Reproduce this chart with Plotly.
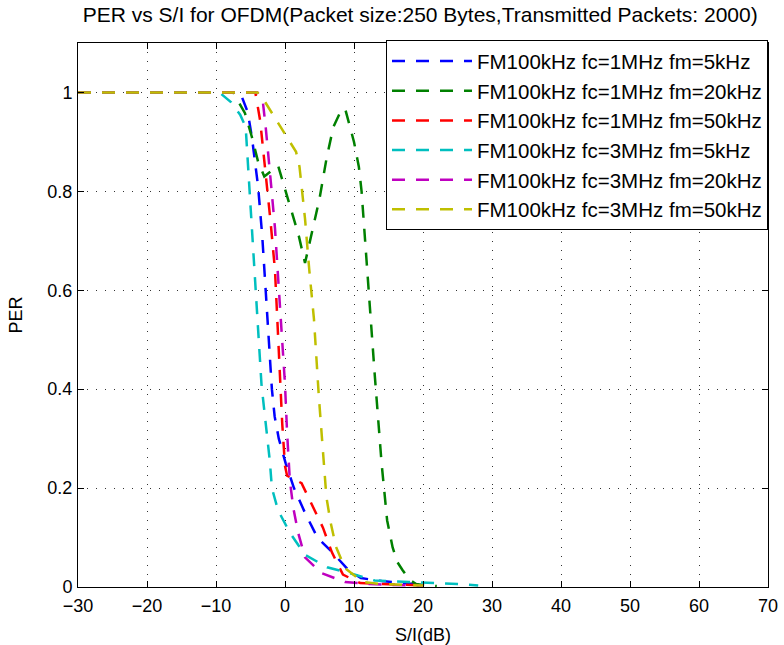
import plotly.graph_objects as go

# PER vs S/I curves
blue_x = [-30, -6.5, -5.4, -4.8, -3.9, -3.3, -2.8, -2.3, -1.9, -1.5, -0.9, 0.1, 1.3, 2.9, 4.7, 7.0, 9.2, 11, 14, 17, 20]
blue_y = [1, 1, 0.96, 0.91, 0.81, 0.71, 0.60, 0.50, 0.40, 0.345, 0.30, 0.25, 0.20, 0.15, 0.10, 0.068, 0.034, 0.018, 0.012, 0.008, 0.004]

green_x = [-30, -7.5, -5.8, -4.8, -3.9, -3.0, -1.0, 0, 1, 2, 2.9, 4, 5, 6, 7, 8, 8.7, 10, 10.7, 11.1, 12, 13, 14, 14.8, 15.6, 16.3, 17, 18, 19, 20, 22]
green_y = [1, 1, 0.958, 0.91, 0.86, 0.83, 0.852, 0.805, 0.762, 0.71, 0.655, 0.725, 0.785, 0.865, 0.93, 0.96, 0.968, 0.90, 0.85, 0.80, 0.62, 0.43, 0.25, 0.135, 0.08, 0.05, 0.035, 0.015, 0.006, 0.004, 0.002]

red_x = [-30, -4.3, -3.6, -2.8, -2.1, -1.45, -1.0, -0.4, 0, 0.3, 2.4, 3.9, 5.5, 6.8, 8.4, 10.9, 14, 17, 20]
red_y = [1, 1, 0.943, 0.842, 0.74, 0.64, 0.50, 0.33, 0.245, 0.225, 0.21, 0.165, 0.12, 0.07, 0.025, 0.008, 0.006, 0.004, 0.003]

cyan_x = [-30, -9.5, -7.8, -6.5, -5.7, -3.4, -2.2, -1.9, -1.0, 0.7, 2.9, 6.1, 9.4, 13, 18, 22, 25, 28]
cyan_y = [1, 1, 0.98, 0.955, 0.93, 0.408, 0.255, 0.20, 0.155, 0.11, 0.065, 0.04, 0.028, 0.013, 0.01, 0.008, 0.006, 0.003]

magenta_x = [-30, -4.0, -3.2, -2.8, -2.1, -1.45, -1.0, -0.5, 0, 0.3, 0.7, 1.2, 1.9, 2.9, 5.3, 8.7, 12.3, 16, 20]
magenta_y = [1, 1, 0.98, 0.93, 0.826, 0.725, 0.626, 0.52, 0.41, 0.313, 0.216, 0.16, 0.11, 0.06, 0.028, 0.01, 0.006, 0.004, 0.003]

yellow_x = [-30, -4.0, -3.3, 1.6, 2.1, 2.9, 3.5, 4.2, 4.9, 5.6, 6.0, 6.6, 7.4, 8.7, 11.3, 14, 17, 20]
yellow_y = [1, 1, 0.99, 0.88, 0.85, 0.745, 0.644, 0.541, 0.386, 0.26, 0.182, 0.131, 0.081, 0.038, 0.01, 0.006, 0.004, 0.003]

series = [
    ("FM100kHz fc=1MHz fm=5kHz", blue_x, blue_y, "rgb(0,0,255)"),
    ("FM100kHz fc=1MHz fm=20kHz", green_x, green_y, "rgb(0,128,0)"),
    ("FM100kHz fc=1MHz fm=50kHz", red_x, red_y, "rgb(255,0,0)"),
    ("FM100kHz fc=3MHz fm=5kHz", cyan_x, cyan_y, "rgb(0,191,191)"),
    ("FM100kHz fc=3MHz fm=20kHz", magenta_x, magenta_y, "rgb(191,0,191)"),
    ("FM100kHz fc=3MHz fm=50kHz", yellow_x, yellow_y, "rgb(191,191,0)"),
]

FONT = "Liberation Sans, Arial, sans-serif"

fig = go.Figure()
for name, xs, ys, color in series:
    fig.add_trace(go.Scatter(
        x=xs, y=ys, mode="lines", name=name,
        line=dict(color=color, width=2.5, dash="13px,11px"),
    ))

axis_common = dict(
    showline=True, linecolor="black", linewidth=1, mirror="ticks",
    ticks="inside", ticklen=6, tickcolor="black", automargin=False,
    showgrid=True, gridcolor="#333", griddash="1px,8px", gridwidth=1,
    zeroline=False, tickfont=dict(size=18, color="black", family=FONT),
)

fig.update_xaxes(range=[-30, 70], dtick=10, tick0=0, ticklabelstandoff=2, **axis_common,
                 title=dict(text="S/I(dB)", font=dict(size=18, color="black"), standoff=16))
fig.update_yaxes(range=[0, 1.1], tickvals=[0, 0.2, 0.4, 0.6, 0.8, 1], ticklabelstandoff=1,
                 **axis_common,
                 title=dict(text="PER", font=dict(size=18, color="black"), standoff=20))

fig.update_layout(
    width=784, height=645,
    margin=dict(l=78, r=16, t=43, b=58),
    paper_bgcolor="white", plot_bgcolor="white",
    font=dict(family=FONT, color="black"),
    title=dict(text="PER vs S/I for OFDM(Packet size:250 Bytes,Transmitted Packets: 2000)",
               x=0.536, xanchor="center", y=0.978, yanchor="middle",
               font=dict(size=21, color="black")),
    legend=dict(x=1, xanchor="right", y=1.005, yanchor="top",
                bgcolor="white", bordercolor="black", borderwidth=1,
                font=dict(size=20.5, color="black"), tracegroupgap=0, itemwidth=80),
    showlegend=True,
)

# drop the default body margin so the figure fills the window exactly
fig.write_html("out.html", config={"displayModeBar": False},
               post_script="document.body.style.margin = '0';")
